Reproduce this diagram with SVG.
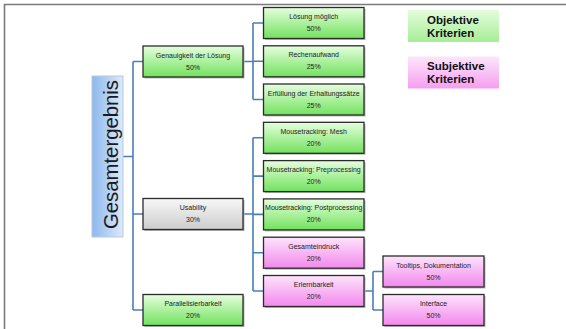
<svg xmlns="http://www.w3.org/2000/svg" width="566" height="329" viewBox="0 0 566 329">
<defs>
<linearGradient id="gGreen" x1="0" y1="0" x2="0" y2="1"><stop offset="0" stop-color="#e6fedf"/><stop offset="1" stop-color="#72e25d"/></linearGradient>
<linearGradient id="gPink" x1="0" y1="0" x2="0" y2="1"><stop offset="0" stop-color="#fde4fb"/><stop offset="1" stop-color="#f288ec"/></linearGradient>
<linearGradient id="gGray" x1="0" y1="0" x2="0" y2="1"><stop offset="0" stop-color="#f7f7f7"/><stop offset="1" stop-color="#cdcdcd"/></linearGradient>
<linearGradient id="gBlue" x1="0" y1="0" x2="1" y2="0"><stop offset="0" stop-color="#8db8ee"/><stop offset="1" stop-color="#dce9fb"/></linearGradient>
<linearGradient id="gLegG" x1="0" y1="0" x2="0" y2="1"><stop offset="0" stop-color="#e4fcdc"/><stop offset="1" stop-color="#a6ee96"/></linearGradient>
<linearGradient id="gLegP" x1="0" y1="0" x2="0" y2="1"><stop offset="0" stop-color="#fde6fb"/><stop offset="1" stop-color="#f59ef0"/></linearGradient>
</defs>
<style>
.box{stroke:#2b2b2b;stroke-width:1.3}
.sh{fill:#b8b8b8}
.g{fill:url(#gGreen)}
.p{fill:url(#gPink)}
.gr{fill:url(#gGray)}
.t{font-family:"Liberation Sans",Arial,sans-serif;font-size:7px;fill:#222;text-anchor:middle}
.leg{font-family:"Liberation Sans",Arial,sans-serif;font-size:11.5px;font-weight:bold;fill:#111}
.c{fill:none;stroke:#4a7ebb;stroke-width:1.6}
</style>
<rect width="566" height="329" fill="#fff"/>
<path d="M4.5 329 V4.5 H566" fill="none" stroke="#7a7a7a" stroke-width="1.6"/>

<g id="connectors">
<path class="c" d="M123 156.5 H133 M133 61.5 V310 M133 61.5 H143 M133 214 H143 M133 310 H143"/>
<path class="c" d="M243 61.5 H253 M253 23 V99.5 M253 23 H263.5 M253 61.3 H263.5 M253 99.5 H263.5"/>
<path class="c" d="M243 214 H253 M253 137.8 V291 M253 137.8 H263.5 M253 176.1 H263.5 M253 214.4 H263.5 M253 252.7 H263.5 M253 291 H263.5"/>
<path class="c" d="M364 291 H373 M373 271.5 V310 M373 271.5 H383 M373 310 H383"/>
</g>

<g id="gesamt">
<rect x="92" y="76" width="31" height="161" fill="url(#gBlue)" stroke="#b9c9dc" stroke-width="1"/>
<text transform="translate(117.5 154.5) rotate(-90)" font-family="'Liberation Sans',Arial,sans-serif" font-size="20" fill="#1a1a1a" text-anchor="middle" textLength="149" lengthAdjust="spacingAndGlyphs">Gesamtergebnis</text>
</g>

<g id="genauigkeit">
<rect class="sh" x="144.5" y="47.5" width="100" height="31"/>
<rect class="box g" x="143" y="46" width="100" height="31"/>
<text class="t" x="193" y="57.5">Genauigkeit der Lösung</text><text class="t" x="193" y="69.5">50%</text>
</g>
<g id="usability">
<rect class="sh" x="144.5" y="200" width="100" height="31"/>
<rect class="box gr" x="143" y="198.5" width="100" height="31"/>
<text class="t" x="193" y="210">Usability</text><text class="t" x="193" y="222">30%</text>
</g>
<g id="parallel">
<rect class="sh" x="144.5" y="296" width="100" height="31"/>
<rect class="box g" x="143" y="294.5" width="100" height="31"/>
<text class="t" x="193" y="306">Parallelisierbarkeit</text><text class="t" x="193" y="318">20%</text>
</g>

<g id="loesung">
<rect class="sh" x="265" y="9" width="100.5" height="31"/>
<rect class="box g" x="263.5" y="7.5" width="100.5" height="31"/>
<text class="t" x="313.7" y="19">Lösung möglich</text><text class="t" x="313.7" y="31">50%</text>
</g>
<g id="rechen">
<rect class="sh" x="265" y="47.3" width="100.5" height="31"/>
<rect class="box g" x="263.5" y="45.8" width="100.5" height="31"/>
<text class="t" x="313.7" y="57.3">Rechenaufwand</text><text class="t" x="313.7" y="69.3">25%</text>
</g>
<g id="erfuellung">
<rect class="sh" x="265" y="85.5" width="100.5" height="31"/>
<rect class="box g" x="263.5" y="84" width="100.5" height="31"/>
<text class="t" x="313.7" y="95.5">Erfüllung der Erhaltungssätze</text><text class="t" x="313.7" y="107.5">25%</text>
</g>
<g id="mesh">
<rect class="sh" x="265" y="123.8" width="100.5" height="31"/>
<rect class="box g" x="263.5" y="122.3" width="100.5" height="31"/>
<text class="t" x="313.7" y="133.8">Mousetracking: Mesh</text><text class="t" x="313.7" y="145.8">20%</text>
</g>
<g id="pre">
<rect class="sh" x="265" y="162.1" width="100.5" height="31"/>
<rect class="box g" x="263.5" y="160.6" width="100.5" height="31"/>
<text class="t" x="313.7" y="172.1">Mousetracking: Preprocessing</text><text class="t" x="313.7" y="184.1">20%</text>
</g>
<g id="post">
<rect class="sh" x="265" y="200.4" width="100.5" height="31"/>
<rect class="box g" x="263.5" y="198.9" width="100.5" height="31"/>
<text class="t" x="313.7" y="210.4">Mousetracking: Postprocessing</text><text class="t" x="313.7" y="222.4">20%</text>
</g>
<g id="eindruck">
<rect class="sh" x="265" y="238.7" width="100.5" height="31"/>
<rect class="box p" x="263.5" y="237.2" width="100.5" height="31"/>
<text class="t" x="313.7" y="248.7">Gesamteindruck</text><text class="t" x="313.7" y="260.7">20%</text>
</g>
<g id="erlern">
<rect class="sh" x="265" y="277" width="100.5" height="31"/>
<rect class="box p" x="263.5" y="275.5" width="100.5" height="31"/>
<text class="t" x="313.7" y="287">Erlernbarkeit</text><text class="t" x="313.7" y="299">20%</text>
</g>

<g id="tooltips">
<rect class="sh" x="384.5" y="257.5" width="101" height="31"/>
<rect class="box p" x="383" y="256" width="101" height="31"/>
<text class="t" x="433.5" y="267.5">Tooltips, Dokumentation</text><text class="t" x="433.5" y="279.5">50%</text>
</g>
<g id="interface">
<rect class="sh" x="384.5" y="296" width="101" height="31"/>
<rect class="box p" x="383" y="294.5" width="101" height="31"/>
<text class="t" x="433.5" y="306">Interface</text><text class="t" x="433.5" y="318">50%</text>
</g>

<g id="legend-objektiv">
<rect x="408" y="10" width="91" height="32" fill="url(#gLegG)"/>
<text class="leg" x="427" y="24">Objektive</text><text class="leg" x="427" y="37">Kriterien</text>
</g>
<g id="legend-subjektiv">
<rect x="408" y="56.5" width="91" height="32" fill="url(#gLegP)"/>
<text class="leg" x="427" y="69.5">Subjektive</text><text class="leg" x="427" y="83">Kriterien</text>
</g>
</svg>
